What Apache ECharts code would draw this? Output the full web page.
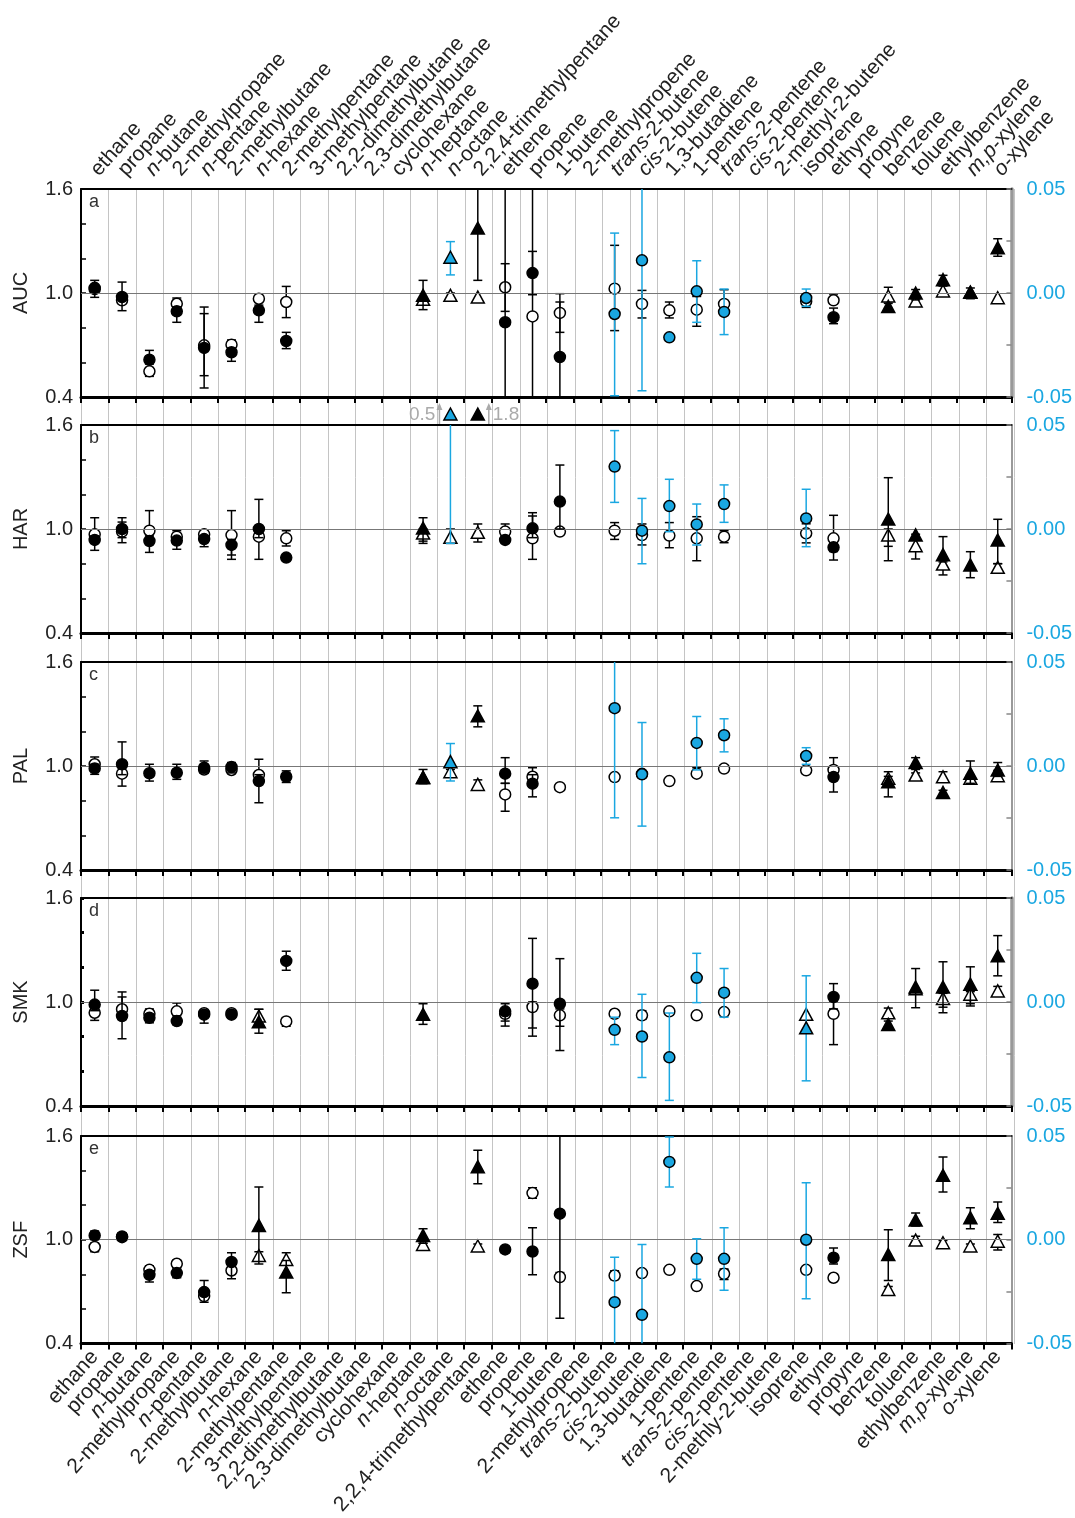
<!DOCTYPE html>
<html><head><meta charset="utf-8">
<script src="https://cdn.jsdelivr.net/npm/echarts@6/dist/echarts.min.js"></script>
<style>html,body{margin:0;padding:0;background:#fff}#c{width:1075px;height:1518px}</style>
</head><body><div id="c"></div>
<script>
// ---------- categories & tick labels ----------
const categories = ['ethane','propane','n-butane','2-methylpropane','n-pentane','2-methylbutane','n-hexane','2-methylpentane','3-methylpentane','2,2-dimethylbutane','2,3-dimethylbutane','cyclohexane','n-heptane','n-octane','2,2,4-trimethylpentane','ethene','propene','1-butene','2-methylpropene','trans-2-butene','cis-2-butene','1,3-butadiene','1-pentene','trans-2-pentene','cis-2-pentene','2-methyl-2-butene','isoprene','ethyne','propyne','benzene','toluene','ethylbenzene','m,p-xylene','o-xylene'];
const topLabels = ['ethane','propane','n-butane','2-methylpropane','n-pentane','2-methylbutane','n-hexane','2-methylpentane','3-methylpentane','2,2-dimethylbutane','2,3-dimethylbutane','cyclohexane','n-heptane','n-octane','2,2,4-trimethylpentane','ethene','propene','1-butene','2-methylpropene','trans-2-butene','cis-2-butene','1,3-butadiene','1-pentene','trans-2-pentene','cis-2-pentene','2-methyl-2-butene','isoprene','ethyne','propyne','benzene','toluene','ethylbenzene','m,p-xylene','o-xylene'];
const bottomLabels = ['ethane','propane','n-butane','2-methylpropane','n-pentane','2-methylbutane','n-hexane','2-methylpentane','3-methylpentane','2,2-dimethylbutane','2,3-dimethylbutane','cyclohexane','n-heptane','n-octane','2,2,4-trimethylpentane','ethene','propene','1-butene','2-methylpropene','trans-2-butene','cis-2-butene','1,3-butadiene','1-pentene','trans-2-pentene','cis-2-pentene','2-methly-2-butene','isoprene','ethyne','propyne','benzene','toluene','ethylbenzene','m,p-xylene','o-xylene'];
const panelNames = ['AUC','HAR','PAL','SMK','ZSF'];
const panelLetters = ['a','b','c','d','e'];
const leftTicks = [0.4, 1.0, 1.6];
const rightTicks = [-0.05, 0, 0.05];

// ---------- data: [compound, value, errLow, errHigh] ----------
// black & open markers use the left axis (ratio); blue markers use the right axis (difference)
const aucFilledCircle = [['ethane',1.03,0.975,1.073],['propane',0.977,0.898,1.063],['n-butane',0.615,0.59,0.669],['2-methylpropane',0.894,0.831,0.92],['n-pentane',0.683,0.452,0.919],['2-methylbutane',0.658,0.606,0.68],['n-hexane',0.9,0.831,0.93],['2-methylpentane',0.723,0.679,0.773],['ethene',0.831,0.2,1.9],['propene',1.115,0.99,1.24],['1-butene',0.631,0.2,0.948],['ethyne',0.86,0.823,0.913]];
const aucOpenCircle = [['ethane',1.022,null,null],['propane',0.958,null,null],['n-butane',0.548,0.519,0.57],['2-methylpropane',0.938,0.92,0.971],['n-pentane',0.698,0.523,0.881],['2-methylbutane',0.702,0.68,0.729],['n-hexane',0.967,null,null],['2-methylpentane',0.948,0.858,1.038],['ethene',1.033,0.894,1.169],['propene',0.865,0.2,1.9],['1-butene',0.885,0.773,0.996],['trans-2-butene',1.025,0.783,1.275],['cis-2-butene',0.937,0.856,1.015],['1,3-butadiene',0.9,0.856,0.948],['1-pentene',0.904,0.808,0.98],['trans-2-pentene',0.937,0.9,1.019],['isoprene',0.952,0.917,0.98],['ethyne',0.958,0.94,0.994]];
const aucBlueCircle = [['trans-2-butene',-0.0101,-0.0494,0.0288],['cis-2-butene',0.0157,-0.047,0.06],['1,3-butadiene',-0.0213,null,null],['1-pentene',0.0008,-0.0141,0.0155],['trans-2-pentene',-0.0091,-0.02,0.0019],['isoprene',-0.0024,-0.0064,0.0019]];
const aucFilledTriangle = [['n-heptane',0.981,0.904,1.073],['2,2,4-trimethylpentane',1.369,1.073,1.9],['benzene',0.917,0.894,0.94],['toluene',0.994,0.96,1.02],['ethylbenzene',1.071,1.04,1.102],['m,p-xylene',0.998,0.967,1.029],['o-xylene',1.256,1.212,1.313]];
const aucOpenTriangle = [['n-heptane',0.958,null,null],['n-octane',0.981,0.97,1.0],['2,2,4-trimethylpentane',0.971,null,null],['benzene',0.977,0.95,1.033],['toluene',0.948,0.93,0.97],['ethylbenzene',1.006,null,null],['m,p-xylene',1.0,null,null],['o-xylene',0.967,null,null]];
const aucBlueTriangle = [['n-octane',0.0167,0.0087,0.0247]];

const harFilledCircle = [['ethane',0.937,0.877,0.96],['propane',1.0,0.95,1.065],['n-butane',0.931,0.865,0.96],['2-methylpropane',0.933,0.883,0.95],['n-pentane',0.942,0.898,0.96],['2-methylbutane',0.908,0.825,0.94],['n-hexane',1.0,0.95,1.171],['2-methylpentane',0.835,null,null],['ethene',0.937,0.92,0.96],['propene',1.004,0.95,1.094],['1-butene',1.158,1.0,1.369],['ethyne',0.894,0.87,0.92]];
const harOpenCircle = [['ethane',0.969,0.95,1.065],['propane',0.985,0.921,1.04],['n-butane',0.99,0.95,1.106],['2-methylpropane',0.956,0.93,0.99],['n-pentane',0.969,0.95,0.979],['2-methylbutane',0.965,0.85,1.106],['n-hexane',0.956,0.825,0.99],['2-methylpentane',0.946,0.902,0.99],['ethene',0.985,0.96,1.029],['propene',0.946,0.825,1.075],['1-butene',0.985,0.97,1.0],['trans-2-butene',0.99,0.94,1.037],['cis-2-butene',0.965,0.908,1.029],['1,3-butadiene',0.962,0.892,1.037],['1-pentene',0.946,0.817,1.071],['trans-2-pentene',0.956,0.921,0.99],['isoprene',0.975,0.92,1.03],['ethyne',0.946,0.821,1.079]];
const harBlueCircle = [['trans-2-butene',0.03,0.0128,0.0473],['cis-2-butene',-0.0008,-0.0167,0.0147],['1,3-butadiene',0.011,-0.0013,0.0239],['1-pentene',0.0022,-0.0077,0.012],['trans-2-pentene',0.012,0.0032,0.0212],['isoprene',0.0051,-0.0085,0.0191]];
const harFilledTriangle = [['n-heptane',1.0,0.93,1.065],['2,2,4-trimethylpentane',1.8,null,null],['benzene',1.052,0.817,1.296],['toluene',0.96,0.94,0.97],['ethylbenzene',0.846,0.81,0.956],['m,p-xylene',0.787,0.719,0.869],['o-xylene',0.931,0.8,1.056]];
const harOpenTriangle = [['n-heptane',0.971,0.917,1.0],['n-octane',0.946,0.917,1.0],['2,2,4-trimethylpentane',0.975,0.925,1.029],['benzene',0.96,0.9,1.0],['toluene',0.898,0.827,0.94],['ethylbenzene',0.792,0.735,0.82],['o-xylene',0.773,0.76,0.8]];
const harBlueTriangle = [['n-octane',0.5,-0.0069,0.5]];
const harOffScale = [['n-octane','0.5','blue','left'],['2,2,4-trimethylpentane','1.8','black','right']];

const palFilledCircle = [['ethane',0.986,0.952,1.01],['propane',1.01,0.95,1.139],['n-butane',0.958,0.913,1.01],['2-methylpropane',0.961,0.923,1.01],['n-pentane',0.99,0.96,1.029],['2-methylbutane',0.994,0.96,1.02],['n-hexane',0.913,0.788,0.95],['2-methylpentane',0.938,0.905,0.972],['ethene',0.956,0.9,1.048],['propene',0.898,0.822,0.95],['ethyne',0.936,0.85,0.96]];
const palOpenCircle = [['ethane',1.01,0.98,1.052],['propane',0.956,0.884,0.99],['n-pentane',0.98,0.96,1.0],['2-methylbutane',0.977,0.96,1.0],['n-hexane',0.948,0.9,1.039],['ethene',0.836,0.739,0.9],['propene',0.938,0.92,0.99],['1-butene',0.878,0.862,0.89],['trans-2-butene',0.936,0.92,0.95],['cis-2-butene',0.955,0.94,0.97],['1,3-butadiene',0.913,0.9,0.93],['1-pentene',0.956,0.95,0.99],['trans-2-pentene',0.985,null,null],['isoprene',0.975,null,null],['ethyne',0.977,0.96,1.048]];
const palBlueCircle = [['trans-2-butene',0.0278,-0.0249,0.06],['cis-2-butene',-0.004,-0.0289,0.0209],['1-pentene',0.0111,-0.0019,0.0238],['trans-2-pentene',0.0148,0.0068,0.0227],['isoprene',0.0048,0.0008,0.0088]];
const palFilledTriangle = [['n-heptane',0.927,0.898,0.98],['2,2,4-trimethylpentane',1.284,1.226,1.347],['benzene',0.903,0.822,0.94],['toluene',1.014,0.98,1.048],['ethylbenzene',0.842,0.82,0.86],['m,p-xylene',0.952,0.9,1.029],['o-xylene',0.971,0.94,1.02]];
const palOpenTriangle = [['n-heptane',0.93,null,null],['n-octane',0.961,0.94,0.98],['2,2,4-trimethylpentane',0.888,0.87,0.92],['benzene',0.923,0.9,0.967],['toluene',0.942,0.92,0.96],['ethylbenzene',0.932,0.91,0.967],['m,p-xylene',0.923,0.9,0.95],['o-xylene',0.938,0.93,0.975]];
const palBlueTriangle = [['n-octane',0.0016,-0.0072,0.0108]];

const smkFilledCircle = [['ethane',0.985,0.95,1.068],['propane',0.919,0.788,1.029],['n-butane',0.909,0.88,0.93],['2-methylpropane',0.89,0.87,0.92],['n-pentane',0.927,0.878,0.95],['2-methylbutane',0.927,0.91,0.95],['2-methylpentane',1.237,1.183,1.293],['ethene',0.946,0.89,0.99],['propene',1.106,0.85,1.367],['1-butene',0.99,0.72,1.25],['ethyne',1.029,0.96,1.106]];
const smkOpenCircle = [['ethane',0.938,0.894,0.96],['propane',0.958,0.9,1.058],['n-butane',0.932,0.9,0.96],['2-methylpropane',0.946,0.91,0.994],['n-pentane',0.935,null,null],['2-methylbutane',0.935,null,null],['2-methylpentane',0.888,0.86,0.91],['ethene',0.932,0.861,0.96],['propene',0.971,0.803,1.0],['1-butene',0.923,0.86,0.96],['trans-2-butene',0.932,0.92,0.95],['cis-2-butene',0.923,0.9,0.95],['1,3-butadiene',0.946,0.935,0.96],['1-pentene',0.923,null,null],['trans-2-pentene',0.942,null,null],['ethyne',0.932,0.754,1.0]];
const smkBlueCircle = [['trans-2-butene',-0.0134,-0.0205,-0.0073],['cis-2-butene',-0.0166,-0.0363,0.0037],['1,3-butadiene',-0.0266,-0.0473,-0.0053],['1-pentene',0.0116,-0.0003,0.0234],['trans-2-pentene',0.0045,-0.0073,0.0161]];
const smkFilledTriangle = [['n-hexane',0.88,0.82,0.958],['n-heptane',0.923,0.871,0.99],['benzene',0.865,0.85,0.89],['toluene',1.081,0.967,1.193],['ethylbenzene',1.081,0.938,1.232],['m,p-xylene',1.097,0.977,1.203],['o-xylene',1.261,1.151,1.383]];
const smkOpenTriangle = [['n-hexane',0.913,0.9,0.958],['isoprene',0.923,null,null],['benzene',0.932,0.92,0.965],['toluene',1.07,null,null],['ethylbenzene',1.015,0.97,1.05],['m,p-xylene',1.039,0.99,1.06],['o-xylene',1.058,1.04,1.09]];
const smkBlueTriangle = [['isoprene',-0.0129,-0.0379,0.0126]];

const zsfFilledCircle = [['ethane',1.025,1.0,1.05],['propane',1.019,1.0,1.04],['n-butane',0.797,0.755,0.82],['2-methylpropane',0.807,0.78,0.83],['n-pentane',0.697,0.639,0.764],['2-methylbutane',0.871,0.774,0.925],['ethene',0.944,0.925,0.96],['propene',0.932,0.797,1.07],['1-butene',1.151,0.546,1.7],['ethyne',0.896,0.86,0.952]];
const zsfOpenCircle = [['ethane',0.958,0.93,0.98],['propane',1.015,null,null],['n-butane',0.826,0.8,0.85],['2-methylpropane',0.861,0.84,0.88],['n-pentane',0.674,0.66,0.69],['2-methylbutane',0.822,0.8,0.84],['propene',1.27,1.24,1.3],['1-butene',0.784,0.765,0.81],['trans-2-butene',0.793,0.77,0.82],['cis-2-butene',0.807,null,null],['1,3-butadiene',0.826,null,null],['1-pentene',0.732,null,null],['trans-2-pentene',0.803,0.77,0.83],['isoprene',0.826,0.81,0.84],['ethyne',0.78,null,null]];
const zsfBlueCircle = [['trans-2-butene',-0.0301,-0.06,-0.0084],['cis-2-butene',-0.0362,-0.06,-0.0023],['1,3-butadiene',0.0375,0.0254,0.0495],['1-pentene',-0.0092,-0.0191,0.0005],['trans-2-pentene',-0.0092,-0.0244,0.0058],['isoprene',0.0,-0.0285,0.0275]];
const zsfFilledTriangle = [['n-hexane',1.077,0.86,1.305],['2-methylpentane',0.807,0.693,0.88],['n-heptane',1.019,0.98,1.064],['2,2,4-trimethylpentane',1.417,1.324,1.517],['benzene',0.909,0.764,1.058],['toluene',1.108,1.08,1.154],['ethylbenzene',1.367,1.276,1.479],['m,p-xylene',1.122,1.064,1.185],['o-xylene',1.147,1.1,1.218]];
const zsfOpenTriangle = [['n-hexane',0.903,0.88,0.93],['2-methylpentane',0.88,0.86,0.925],['n-heptane',0.967,0.95,0.98],['2,2,4-trimethylpentane',0.958,0.94,0.975],['benzene',0.707,0.69,0.73],['toluene',0.992,0.97,1.02],['ethylbenzene',0.977,0.96,0.995],['m,p-xylene',0.958,0.94,0.975],['o-xylene',0.986,0.94,1.03]];
const zsfBlueTriangle = [];

// ---------- layout / style ----------
const BLUE = '#1AA7E1';
const FONT = 'Liberation Sans, Arial, Helvetica, sans-serif';
const panelTops = [189, 425, 662, 898, 1136];
const PH = 208, GL = 81, GR = 61;
const panelData = [
  {oc: aucOpenCircle, ot: aucOpenTriangle, fc: aucFilledCircle, ft: aucFilledTriangle, bt: aucBlueTriangle, bc: aucBlueCircle},
  {oc: harOpenCircle, ot: harOpenTriangle, fc: harFilledCircle, ft: harFilledTriangle, bt: harBlueTriangle, bc: harBlueCircle},
  {oc: palOpenCircle, ot: palOpenTriangle, fc: palFilledCircle, ft: palFilledTriangle, bt: palBlueTriangle, bc: palBlueCircle},
  {oc: smkOpenCircle, ot: smkOpenTriangle, fc: smkFilledCircle, ft: smkFilledTriangle, bt: smkBlueTriangle, bc: smkBlueCircle},
  {oc: zsfOpenCircle, ot: zsfOpenTriangle, fc: zsfFilledCircle, ft: zsfFilledTriangle, bt: zsfBlueTriangle, bc: zsfBlueCircle}
];
const kinds = [
  {key:'oc', shape:'circle', fill:'#fff', err:'#000', right:false},
  {key:'ot', shape:'triangle', fill:'#fff', err:'#000', right:false},
  {key:'fc', shape:'circle', fill:'#000', err:'#000', right:false},
  {key:'ft', shape:'triangle', fill:'#000', err:'#000', right:false},
  {key:'bt', shape:'triangle', fill:BLUE, err:BLUE, right:true},
  {key:'bc', shape:'circle', fill:BLUE, err:BLUE, right:true}
];

function markerShape(shape, x, y, fill) {
  const style = {fill: fill, stroke: '#000', lineWidth: 1.5};
  if (shape === 'circle') return {type:'circle', shape:{cx:x, cy:y, r:5.5}, style};
  return {type:'polygon', shape:{points:[[x, y-7], [x-6.5, y+5], [x+6.5, y+5]]}, style};
}

function makeRender(kind) {
  return function (params, api) {
    const cs = params.coordSys;
    const top = cs.y, bot = cs.y + cs.height;
    const c = api.value(0), v = api.value(1), lo = api.value(2), hi = api.value(3);
    const p = api.coord([c, v]);
    const x = p[0];
    const ch = [];
    if (isFinite(lo) && isFinite(hi)) {
      let yl = api.coord([c, lo])[1], yh = api.coord([c, hi])[1];
      const capL = yl <= bot + 0.5, capH = yh >= top - 0.5;
      yl = Math.min(Math.max(yl, top), bot);
      yh = Math.min(Math.max(yh, top), bot);
      const st = {stroke: kind.err, lineWidth: 1.5};
      ch.push({type:'line', shape:{x1:x, y1:yh, x2:x, y2:yl}, style: st});
      if (capH) ch.push({type:'line', shape:{x1:x-4.5, y1:yh, x2:x+4.5, y2:yh}, style: st});
      if (capL) ch.push({type:'line', shape:{x1:x-4.5, y1:yl, x2:x+4.5, y2:yl}, style: st});
    }
    if (p[1] >= top - 1 && p[1] <= bot + 1) ch.push(markerShape(kind.shape, x, p[1], kind.fill));
    return {type:'group', children: ch};
  };
}

function fmt(name) {
  const m = name.match(/^(n-|trans-|cis-|m,p-|o-)(.*)$/);
  if (m) return '{i|' + m[1] + '}{r|' + m[2] + '}';
  return '{r|' + name + '}';
}
const rich = {
  i: {fontStyle:'italic', fontSize:21, fontFamily: FONT, color:'#222'},
  r: {fontSize:21, fontFamily: FONT, color:'#222'}
};
const near = (v, arr) => arr.some(t => Math.abs(t - v) < 1e-6);

const grid = [], xAxis = [], yAxis = [], series = [], graphic = [];
panelTops.forEach((t, p) => {
  grid.push({left: GL, right: GR, top: t, height: PH});
  xAxis.push({
    type:'category', gridIndex:p, data:categories, position:'bottom', boundaryGap:true,
    axisLine:{show:true, onZero:false, lineStyle:{color:'#000', width:3}},
    axisTick:{show:true, interval:0, length:6, lineStyle:{color:'#000', width:2}},
    axisLabel: p === 4 ? {show:true, interval:0, rotate:48, margin:10, formatter:(v, i) => fmt(bottomLabels[i]), rich} : {show:false, interval:0},
    splitLine:{show:false}
  });
  xAxis.push({
    type:'category', gridIndex:p, data:categories, position:'top', boundaryGap:true,
    axisLine:{show:true, onZero:false, lineStyle:{color:'#000', width:2}},
    axisTick:{show:false},
    axisLabel: p === 0 ? {show:true, interval:0, rotate:-48, margin:16, formatter:(v, i) => fmt(topLabels[i]), rich} : {show:false},
    splitLine:{show:false}
  });
  yAxis.push({
    type:'value', gridIndex:p, min:0.4, max:1.6, interval:0.2, position:'left',
    name: panelNames[p], nameLocation:'middle', nameGap:50, nameRotate:90,
    nameTextStyle:{fontSize:20, color:'#222', fontFamily: FONT},
    axisLine:{show:true, onZero:false, lineStyle:{color:'#000', width:2}},
    axisTick:{show:true, inside:true, length: p === 3 ? 3 : 5, lineStyle:{color:'#000', width: p === 3 ? 3 : 1.5}},
    axisLabel:{show:true, fontSize:20, color:'#222', margin:8, fontFamily: FONT,
      formatter: v => near(v, leftTicks) ? v.toFixed(1) : ''},
    splitLine:{show:false}
  });
  yAxis.push({
    type:'value', gridIndex:p, min:-0.05, max:0.05, interval:0.025, position:'right',
    axisLine:{show:true, onZero:false, lineStyle:{color:'#999', width: (p === 0 || p === 3) ? 3.5 : 2}},
    axisTick:{show:true, inside:true, length:5, lineStyle:{color:'#888', width:1.5}},
    axisLabel:{show:true, fontSize:20, color:BLUE, margin:15, fontFamily: FONT,
      formatter: v => near(v, rightTicks) ? v.toFixed(2) : ''},
    splitLine:{show:false}
  });
  kinds.forEach((k, ki) => {
    const s = {
      type:'custom', name: panelNames[p] + '-' + k.key,
      xAxisIndex: 2*p, yAxisIndex: k.right ? 2*p+1 : 2*p,
      dimensions:[{name:'cat', type:'ordinal'}, 'v', 'lo', 'hi'],
      encode:{x:0, y:1},
      data: panelData[p][k.key],
      renderItem: makeRender(k),
      clip: true, silent: true, animation: false, z: 3 + ki
    };
    if (ki === 0) {
      s.markLine = {silent:true, symbol:['none','none'], label:{show:false}, animation:false,
        lineStyle:{color:'#777', width:1, type:'solid'}, data:[{yAxis:1}]};
    }
    series.push(s);
  });
  graphic.push({type:'text', left: 89, top: t + 4, silent:true,
    style:{text: panelLetters[p], fontSize:18, fill:'#333', fontFamily: FONT}});
});

// off-scale annotations above panel b
series.push({
  type:'custom', name:'HAR-offscale', xAxisIndex:2, yAxisIndex:2,
  data: harOffScale.map(d => [d[0], 1.6]),
  encode:{x:0, y:1}, clip:false, silent:true, animation:false, z:10,
  renderItem: function (params, api) {
    const d = harOffScale[params.dataIndex];
    const p = api.coord([api.value(0), api.value(1)]);
    const x = p[0], y = p[1] - 10;
    const dir = d[3] === 'left' ? -1 : 1;
    const ax = x + dir * 11;
    const gray = '#aaa';
    return {type:'group', children:[
      {type:'line', shape:{x1:ax, y1:p[1]-1, x2:ax, y2:p[1]-20}, style:{stroke:gray, lineWidth:1.5}},
      {type:'polygon', shape:{points:[[ax, p[1]-22], [ax-3, p[1]-15], [ax+3, p[1]-15]]}, style:{fill:gray}},
      {type:'text', x: ax + dir * 4, y: y, style:{text: d[1], fill: gray, fontSize:19, fontFamily: FONT,
        align: dir < 0 ? 'right' : 'left', verticalAlign:'middle'}},
      markerShape('triangle', x, y, d[2] === 'blue' ? BLUE : '#000')
    ]};
  }
});

// background vertical separators spanning all panels
grid.push({left: GL, right: GR, top: panelTops[0], height: panelTops[4] + PH - panelTops[0]});
xAxis.push({type:'category', gridIndex:5, data:categories, boundaryGap:true,
  axisLine:{show:false, onZero:false}, axisTick:{show:false}, axisLabel:{show:false, interval:0},
  splitLine:{show:true, interval:0, lineStyle:{color:'#c4c4c4', width:1}}});
yAxis.push({type:'value', gridIndex:5, show:false, min:0, max:1});

const chart = echarts.init(document.getElementById('c'), null, {renderer:'canvas'});
chart.setOption({
  animation:false,
  textStyle:{fontFamily: FONT},
  grid, xAxis, yAxis, series, graphic
});
</script></body></html>
